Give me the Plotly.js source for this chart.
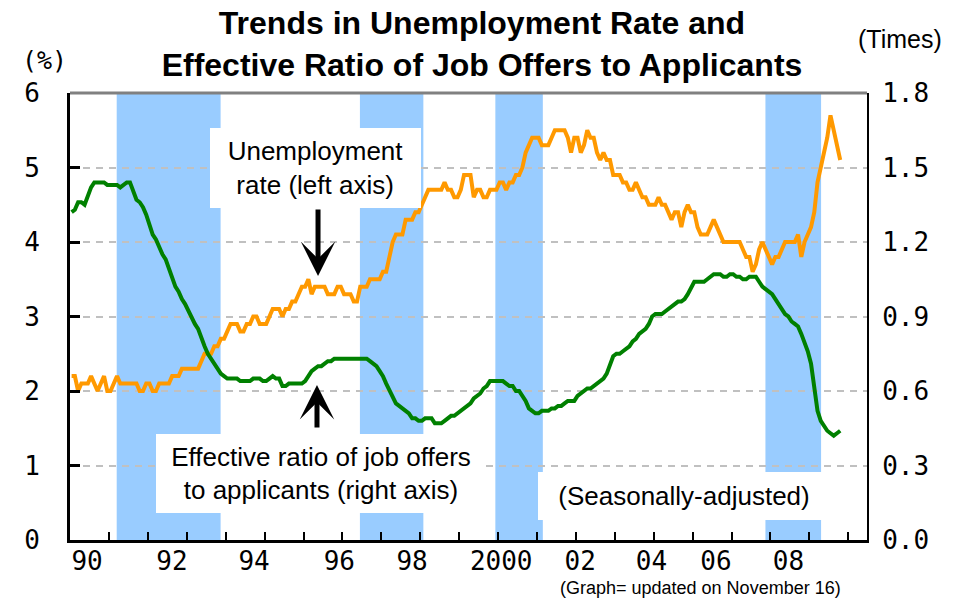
<!DOCTYPE html>
<html>
<head>
<meta charset="utf-8">
<script src="https://cdn.plot.ly/plotly-3.0.1.min.js"></script>
<style>
  html, body { margin: 0; padding: 0; background: #ffffff; }
  #chart { width: 959px; height: 598px; }
</style>
</head>
<body>
<div id="chart"></div>
<script>
// ---- Data (monthly, seasonally adjusted, Jan 1990 - Oct 2009) ----
const startYear = 1990;

// Unemployment rate (%), left axis
const unemployment = [
  2.2,2.2,2.0,2.1,2.1,2.1,2.2,2.1,2.0,2.1,2.2,2.0,   // 1990
  2.0,2.1,2.2,2.1,2.1,2.1,2.1,2.1,2.1,2.0,2.0,2.1,   // 1991
  2.1,2.0,2.0,2.1,2.1,2.1,2.1,2.2,2.2,2.2,2.3,2.3,   // 1992
  2.3,2.3,2.3,2.3,2.4,2.5,2.5,2.5,2.6,2.6,2.7,2.7,   // 1993
  2.8,2.9,2.9,2.9,2.8,2.8,2.9,2.9,3.0,3.0,2.9,2.9,   // 1994
  2.9,3.0,3.1,3.1,3.1,3.0,3.1,3.1,3.2,3.2,3.3,3.4,   // 1995
  3.4,3.5,3.3,3.4,3.4,3.4,3.4,3.3,3.3,3.3,3.4,3.4,   // 1996
  3.3,3.3,3.3,3.2,3.2,3.4,3.4,3.4,3.5,3.5,3.5,3.5,   // 1997
  3.6,3.6,3.8,4.0,4.1,4.1,4.1,4.3,4.3,4.3,4.4,4.4,   // 1998
  4.5,4.6,4.7,4.7,4.7,4.7,4.7,4.8,4.7,4.7,4.6,4.6,   // 1999
  4.7,4.9,4.9,4.9,4.6,4.7,4.7,4.6,4.6,4.7,4.7,4.7,   // 2000
  4.8,4.8,4.7,4.8,4.8,4.9,4.9,5.0,5.2,5.3,5.4,5.4,   // 2001
  5.4,5.3,5.3,5.3,5.4,5.5,5.5,5.5,5.5,5.4,5.2,5.4,   // 2002
  5.4,5.2,5.3,5.5,5.4,5.4,5.2,5.1,5.2,5.1,5.1,4.9,   // 2003
  4.9,4.9,4.8,4.8,4.7,4.7,4.8,4.7,4.6,4.6,4.5,4.5,   // 2004
  4.5,4.6,4.5,4.5,4.4,4.3,4.4,4.4,4.2,4.4,4.5,4.4,   // 2005
  4.4,4.2,4.1,4.1,4.1,4.2,4.3,4.2,4.1,4.0,4.0,4.0,   // 2006
  4.0,4.0,4.0,3.9,3.8,3.8,3.6,3.7,3.9,4.0,3.9,3.8,   // 2007
  3.7,3.8,3.8,3.9,4.0,4.0,4.0,4.0,4.1,3.8,4.0,4.1,   // 2008
  4.2,4.4,4.8,5.0,5.2,5.4,5.7,5.5,5.3,5.1            // 2009
];

// Effective ratio of job offers to applicants (times), right axis
const jobRatio = [
  1.32,1.33,1.36,1.36,1.35,1.39,1.42,1.44,1.44,1.44,1.44,1.43,   // 1990
  1.43,1.43,1.43,1.42,1.43,1.44,1.44,1.40,1.37,1.36,1.34,1.31,   // 1991
  1.27,1.23,1.21,1.18,1.15,1.13,1.09,1.05,1.02,1.00,0.97,0.95,   // 1992
  0.92,0.90,0.87,0.85,0.81,0.78,0.75,0.73,0.71,0.69,0.67,0.66,   // 1993
  0.65,0.65,0.65,0.65,0.64,0.64,0.64,0.64,0.65,0.65,0.65,0.64,   // 1994
  0.64,0.65,0.66,0.65,0.65,0.62,0.62,0.63,0.63,0.63,0.63,0.63,   // 1995
  0.64,0.66,0.68,0.69,0.70,0.70,0.71,0.72,0.72,0.73,0.73,0.73,   // 1996
  0.73,0.73,0.73,0.73,0.73,0.73,0.73,0.73,0.72,0.71,0.70,0.68,   // 1997
  0.66,0.63,0.60,0.57,0.55,0.54,0.53,0.52,0.51,0.49,0.49,0.48,   // 1998
  0.48,0.49,0.49,0.49,0.47,0.47,0.47,0.48,0.49,0.50,0.50,0.51,   // 1999
  0.52,0.53,0.54,0.55,0.57,0.58,0.59,0.61,0.62,0.64,0.64,0.64,   // 2000
  0.64,0.64,0.63,0.62,0.62,0.60,0.60,0.58,0.56,0.53,0.52,0.51,   // 2001
  0.51,0.52,0.52,0.52,0.53,0.53,0.54,0.54,0.55,0.56,0.56,0.56,   // 2002
  0.58,0.59,0.60,0.61,0.61,0.62,0.63,0.64,0.65,0.67,0.70,0.74,   // 2003
  0.75,0.75,0.76,0.77,0.78,0.80,0.81,0.83,0.84,0.85,0.87,0.90,   // 2004
  0.91,0.91,0.91,0.92,0.93,0.94,0.95,0.96,0.96,0.97,0.99,1.02,   // 2005
  1.04,1.04,1.04,1.04,1.05,1.06,1.07,1.07,1.07,1.06,1.06,1.07,   // 2006
  1.07,1.06,1.06,1.05,1.05,1.06,1.06,1.06,1.04,1.02,1.01,1.00,   // 2007
  0.99,0.97,0.95,0.93,0.91,0.90,0.88,0.87,0.86,0.83,0.80,0.76,   // 2008
  0.71,0.62,0.52,0.48,0.46,0.44,0.43,0.42,0.43,0.44              // 2009
];

// Recession (shaded) periods, in decimal years
const recessionStart = [1991.2, 1997.45, 2000.93, 2007.87];
const recessionEnd   = [1993.87, 1999.08, 2002.15, 2009.3];

// Axis ticks
const xTickLabels = ['90','92','94','96','98','2000','02','04','06','08'];
const xTickPos = [1990.44, 1992.62, 1994.73, 1996.92, 1998.79, 2001.08, 2003.11, 2004.94, 2006.6, 2008.46];
const yearBoundaries = [1991,1992,1993,1994,1995,1996,1997,1998,1999,2000,2001,2002,2003,2004,2005,2006,2007,2008,2009,2010];
const leftTicks = [0,1,2,3,4,5,6];
const rightTicks = [0,0.3,0.6,0.9,1.2,1.5,1.8];

// Month positions (middle of each month)
const months = unemployment.map((_, i) => startYear + (i + 0.5) / 12);

const monoFont = 'DejaVu Sans Mono, Liberation Mono, monospace';
const sansFont = 'Liberation Sans, Arial, sans-serif';

const traces = [
  {
    x: months, y: unemployment, type: 'scatter', mode: 'lines',
    line: {color: '#FF9900', width: 4}, yaxis: 'y', hoverinfo: 'skip'
  },
  {
    x: months, y: jobRatio, type: 'scatter', mode: 'lines',
    line: {color: '#008000', width: 4}, yaxis: 'y2', hoverinfo: 'skip'
  }
];

const shapes = recessionStart.map((s, i) => ({
  type: 'rect', xref: 'x', yref: 'paper',
  x0: s, x1: recessionEnd[i], y0: 0, y1: 1,
  fillcolor: '#99CCFF', line: {width: 0}, layer: 'between'
}));
shapes.push({
  type: 'line', xref: 'paper', yref: 'paper', x0: 0, x1: 1, y0: 1, y1: 1,
  line: {color: '#808080', width: 3}, layer: 'above'
});

const annotations = [
  { // white box with label for unemployment
    xref: 'paper', yref: 'paper', x: 0.308, y: 0.832, xanchor: 'center', yanchor: 'middle',
    text: 'Unemployment<br>rate (left axis)', showarrow: false,
    width: 211, height: 80, bgcolor: '#ffffff', borderpad: 0, borderwidth: 0,
    font: {family: sansFont, size: 26, color: '#000000'}, align: 'center', valign: 'middle'
  },
  { // white box with label for job offer ratio
    xref: 'paper', yref: 'paper', x: 0.3149, y: 0.1488, xanchor: 'center', yanchor: 'middle',
    text: 'Effective ratio of job offers<br>to applicants (right axis)', showarrow: false,
    width: 330, height: 79, bgcolor: '#ffffff', borderpad: 0, borderwidth: 0,
    font: {family: sansFont, size: 26, color: '#000000'}, align: 'center', valign: 'middle'
  },
  { // seasonally adjusted note
    xref: 'paper', yref: 'paper', x: 0.7704, y: 0.0984, xanchor: 'center', yanchor: 'middle',
    text: '(Seasonally-adjusted)', showarrow: false,
    width: 292, height: 48, bgcolor: '#ffffff', borderpad: 0, borderwidth: 0,
    font: {family: sansFont, size: 26, color: '#000000'}, align: 'center', valign: 'middle'
  },
  { // arrow down to unemployment line
    xref: 'paper', yref: 'paper', x: 0.3112, y: 0.5906, ax: 0, ay: -68,
    text: '', showarrow: true, arrowhead: 3, arrowsize: 1.15, arrowwidth: 5,
    arrowcolor: '#000000', standoff: 0, startstandoff: 0
  },
  { // arrow up to job ratio line
    xref: 'paper', yref: 'paper', x: 0.3099, y: 0.3468, ax: 0, ay: 44,
    text: '', showarrow: true, arrowhead: 3, arrowsize: 1.15, arrowwidth: 5,
    arrowcolor: '#000000', standoff: 0, startstandoff: 0
  },
  { // left axis unit
    xref: 'paper', yref: 'paper', x: -0.0326, y: 1.0716, xanchor: 'center', yanchor: 'middle',
    text: '(%)', showarrow: false, font: {family: monoFont, size: 25, color: '#000000'}
  },
  { // right axis unit
    xref: 'paper', yref: 'paper', x: 1.042, y: 1.1208, xanchor: 'center', yanchor: 'middle',
    text: '(Times)', showarrow: false, font: {family: sansFont, size: 25, color: '#000000'}
  },
  { // footer note
    xref: 'paper', yref: 'paper', x: 0.7917, y: -0.1085, xanchor: 'center', yanchor: 'middle',
    text: '(Graph= updated on November 16)', showarrow: false,
    font: {family: sansFont, size: 18, color: '#000000'}
  }
];

const layout = {
  width: 959, height: 598,
  margin: {l: 70, r: 92, t: 93, b: 58, pad: 0},
  paper_bgcolor: '#ffffff', plot_bgcolor: '#ffffff',
  showlegend: false,
  title: {
    text: '<b>Trends in Unemployment Rate and<br>Effective Ratio of Job Offers to Applicants</b>',
    xref: 'container', yref: 'container', x: 0.5026, xanchor: 'center', y: 0.943, yanchor: 'top',
    font: {family: sansFont, size: 32, color: '#000000'}
  },
  xaxis: {
    range: [1990, 2010.48], fixedrange: true,
    tickmode: 'array', tickvals: xTickPos, ticktext: xTickLabels,
    ticks: '', showgrid: false, zeroline: false,
    showline: true, linecolor: '#000000', linewidth: 3,
    tickfont: {family: monoFont, size: 26, color: '#000000'},
    ticklabelstandoff: -4,
    minor: {tickmode: 'array', tickvals: yearBoundaries, ticks: 'inside', ticklen: 8,
            tickwidth: 2, tickcolor: '#000000', showgrid: false}
  },
  yaxis: {
    range: [0, 6], fixedrange: true,
    tickmode: 'array', tickvals: leftTicks, ticktext: leftTicks.map(String),
    ticks: 'inside', ticklen: 10, tickwidth: 3, tickcolor: '#000000',
    showline: true, linecolor: '#000000', linewidth: 3, zeroline: false,
    showgrid: true, gridcolor: '#C0C0C0', gridwidth: 2, griddash: '7px,6px',
    tickfont: {family: monoFont, size: 26, color: '#000000'},
    ticklabelstandoff: 22
  },
  yaxis2: {
    range: [0, 1.8], overlaying: 'y', side: 'right', fixedrange: true,
    tickmode: 'array', tickvals: rightTicks, ticktext: rightTicks.map(v => v.toFixed(1)),
    ticks: '', showgrid: false, zeroline: false,
    showline: true, linecolor: '#000000', linewidth: 2,
    tickfont: {family: monoFont, size: 26, color: '#000000'},
    ticklabelstandoff: 8
  },
  shapes: shapes,
  annotations: annotations
};

Plotly.newPlot('chart', traces, layout, {staticPlot: true, displayModeBar: false});
</script>
</body>
</html>
